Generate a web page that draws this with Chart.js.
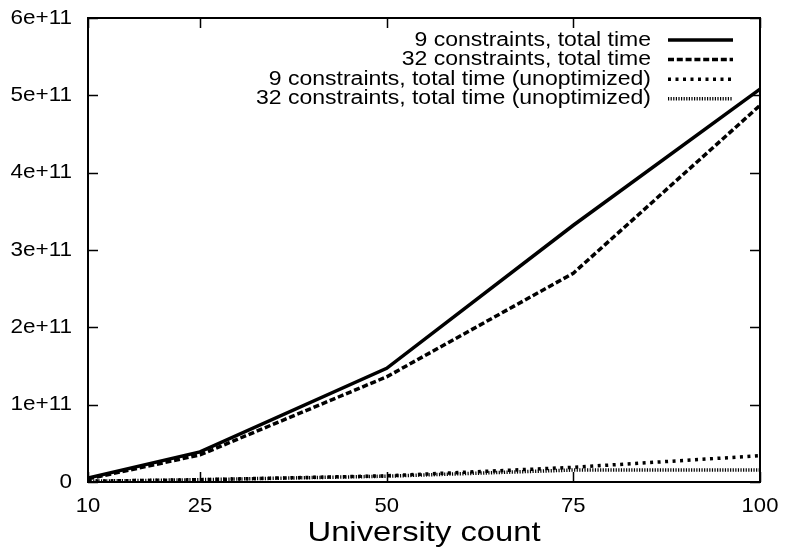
<!DOCTYPE html>
<html>
<head>
<meta charset="utf-8">
<script src="https://cdn.jsdelivr.net/npm/chart.js@4"></script>
<style>
  html, body { margin: 0; padding: 0; background: #fff; }
  #chart { display: block; }
</style>
</head>
<body>
<canvas id="chart" width="787" height="555"></canvas>
<script>
// university counts on the x axis
const universityCounts = [10, 25, 50, 75, 100];
const xTickValues = [10, 25, 50, 75, 100];

// total time per run
const total9 = [5e9, 3.9e10, 1.47e11, 3.32e11, 5.08e11];
const total32 = [4e9, 3.5e10, 1.36e11, 2.7e11, 4.87e11];
const total9Unopt = [1e9, 3e9, 8e9, 1.9e10, 3.4e10];
const total32Unopt = [1e9, 3e9, 7.5e9, 1.55e10, 1.55e10];

const seriesLabels = [
  "9 constraints, total time",
  "32 constraints, total time",
  "9 constraints, total time (unoptimized)",
  "32 constraints, total time (unoptimized)",
];

const FONT = '"Liberation Sans", Arial, sans-serif';

function points(values) {
  return universityCounts.map((x, i) => ({ x, y: values[i] }));
}

function yLabel(v) {
  return v === 0 ? "0" : `${Math.round(v / 1e11)}e+11`;
}

// the original's Helvetica is a bit wider than Liberation Sans
function stretchedText(ctx, text, x, y, size, stretch, align) {
  ctx.save();
  ctx.font = `${size}px ${FONT}`;
  ctx.textAlign = align;
  ctx.textBaseline = "middle";
  ctx.translate(x, y);
  ctx.scale(stretch, 1);
  ctx.fillText(text, 0, 0);
  ctx.restore();
}

// gnuplot-style frame, inner ticks, labels and key
const gnuplotLook = {
  id: "gnuplotLook",
  afterDraw(chart) {
    const { ctx, chartArea: a, scales } = chart;
    const xs = scales.x;
    const ys = scales.y;
    const tick = 10;
    ctx.save();
    ctx.strokeStyle = "#000";
    ctx.fillStyle = "#000";
    ctx.lineWidth = 1.5;

    // ticks on all four sides
    ctx.beginPath();
    xs.ticks.forEach((t) => {
      const px = Math.round(xs.getPixelForValue(t.value)) + 0.5;
      ctx.moveTo(px, a.bottom);
      ctx.lineTo(px, a.bottom - tick);
      ctx.moveTo(px, a.top);
      ctx.lineTo(px, a.top + tick);
    });
    ys.ticks.forEach((t) => {
      const py = Math.round(ys.getPixelForValue(t.value)) + 0.5;
      ctx.moveTo(a.left, py);
      ctx.lineTo(a.left + tick, py);
      ctx.moveTo(a.right, py);
      ctx.lineTo(a.right - tick, py);
    });
    ctx.stroke();

    // frame
    ctx.lineWidth = 2;
    ctx.strokeRect(a.left, a.top, a.right - a.left, a.bottom - a.top);

    // tick labels
    xs.ticks.forEach((t) => {
      stretchedText(ctx, String(t.value), xs.getPixelForValue(t.value), a.bottom + 24, 21, 1.05, "center");
    });
    ys.ticks.forEach((t) => {
      stretchedText(ctx, yLabel(t.value), a.left - 16, ys.getPixelForValue(t.value), 21, 1.07, "right");
    });

    // axis title
    stretchedText(ctx, "University count", (a.left + a.right) / 2, a.bottom + 51, 28, 1.17, "center");

    // key, top right inside the frame
    chart.data.datasets.forEach((ds, i) => {
      const cy = 40 + i * 19.6;
      stretchedText(ctx, ds.label, 651, cy, 20, 1.15, "right");
      ctx.save();
      ctx.lineWidth = ds.borderWidth;
      ctx.setLineDash(ds.borderDash || []);
      ctx.beginPath();
      ctx.moveTo(668, cy);
      ctx.lineTo(733, cy);
      ctx.stroke();
      ctx.restore();
    });
    ctx.restore();
  },
};

function lineSet(label, values, dash) {
  return {
    label,
    data: points(values),
    borderColor: "#000",
    backgroundColor: "#000",
    borderWidth: 3.5,
    borderDash: dash,
    borderCapStyle: "butt",
    pointRadius: 0,
    tension: 0,
    fill: false,
  };
}

new Chart(document.getElementById("chart"), {
  type: "line",
  data: {
    datasets: [
      lineSet(seriesLabels[0], total9, []),
      lineSet(seriesLabels[1], total32, [6, 2.8]),
      lineSet(seriesLabels[2], total9Unopt, [3, 4.5]),
      lineSet(seriesLabels[3], total32Unopt, [1.2, 1.4]),
    ],
  },
  options: {
    responsive: false,
    animation: false,
    devicePixelRatio: 1,
    layout: { padding: { top: 18, right: 27, left: 0, bottom: 0 } },
    plugins: { legend: { display: false }, tooltip: { enabled: false } },
    scales: {
      x: {
        type: "linear",
        min: 10,
        max: 100,
        grid: { display: false },
        border: { display: false },
        ticks: { display: false },
        afterBuildTicks: (s) => {
          s.ticks = xTickValues.map((v) => ({ value: v }));
        },
        afterFit: (s) => {
          s.height = 73;
        },
      },
      y: {
        min: 0,
        max: 6e11,
        grid: { display: false },
        border: { display: false },
        ticks: { display: false, stepSize: 1e11 },
        afterFit: (s) => {
          s.width = 88;
        },
      },
    },
  },
  plugins: [gnuplotLook],
});
</script>
</body>
</html>
